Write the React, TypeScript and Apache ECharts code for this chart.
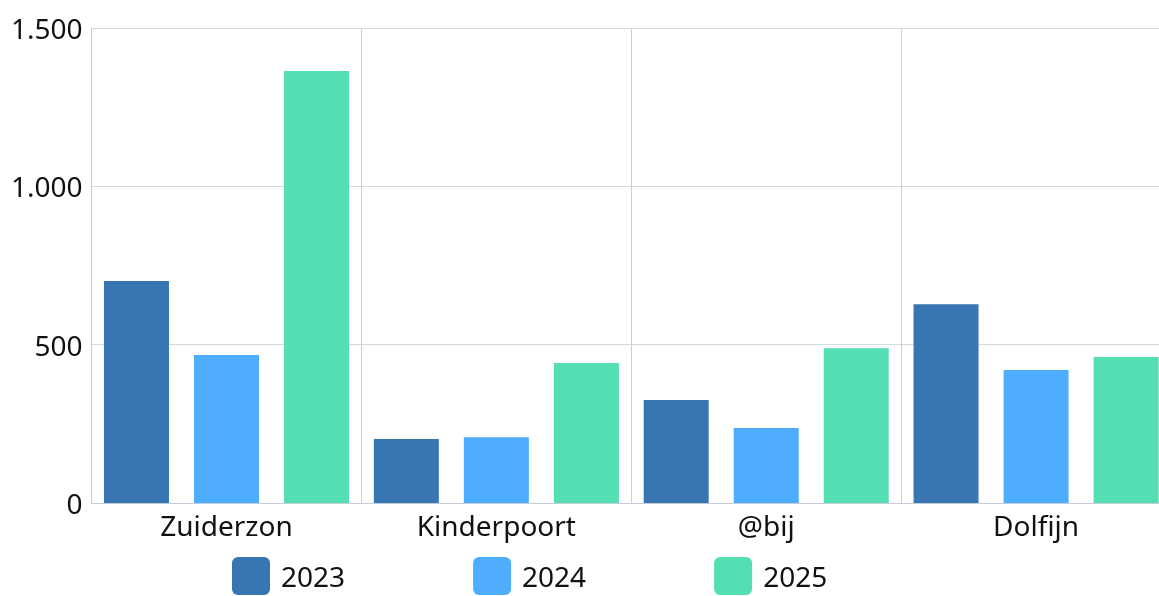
import React, { useEffect, useRef } from "react";
import * as echarts from "echarts";

const categories = ["Zuiderzon", "Kinderpoort", "@bij", "Dolfijn"];
const seriesNames = ["2023", "2024", "2025"];
const values2023 = [701, 202, 325, 628];
const values2024 = [467, 208, 237, 420];
const values2025 = [1364, 442, 489, 461];
const colors = ["#3776b2", "#4fadff", "#53deb4"];
const yTicks = { min: 0, max: 1500, interval: 500 };

const FONT = "'Noto Sans', 'Open Sans', sans-serif";

export default function App() {
  const ref = useRef<HTMLDivElement>(null);
  useEffect(() => {
    if (!ref.current) return;
    const chart = echarts.init(ref.current, null, { renderer: "svg" });
    const data = [values2023, values2024, values2025];
    chart.setOption({
      animation: false,
      textStyle: { fontFamily: FONT },
      grid: { left: 77, right: 37, top: 20, bottom: 105, containLabel: false },
      legend: {
        data: seriesNames,
        left: 224,
        top: 549,
        padding: 0,
        itemWidth: 38,
        itemHeight: 38,
        itemGap: 128,
        icon: "path://M6,0 H32 A6,6 0 0 1 38,6 V32 A6,6 0 0 1 32,38 H6 A6,6 0 0 1 0,32 V6 A6,6 0 0 1 6,0 Z",
        textStyle: { fontSize: 28, color: "#111", fontFamily: FONT, padding: [0, 0, 0, 6] },
      },
      xAxis: {
        type: "category",
        data: categories,
        axisTick: { show: false },
        axisLine: { show: true, lineStyle: { color: "#c3ccd8", width: 1 } },
        splitLine: { show: true, lineStyle: { color: "#c8d0da", width: 1 } },
        axisLabel: { fontSize: 28, color: "#111", margin: 8, fontFamily: FONT },
      },
      yAxis: {
        type: "value",
        min: yTicks.min,
        max: yTicks.max,
        interval: yTicks.interval,
        axisLine: { show: true, lineStyle: { color: "#c3ccd8", width: 1 } },
        axisTick: { show: false },
        splitLine: { show: true, lineStyle: { color: "#d3d9e0", width: 1 } },
        axisLabel: {
          fontSize: 28,
          color: "#111",
          margin: 9,
          fontFamily: FONT,
          formatter: (v: number) => v.toLocaleString("de-DE"),
        },
      },
      series: seriesNames.map((name, i) => ({
        name,
        type: "bar",
        data: data[i],
        barWidth: 65,
        barGap: "38.5%",
        itemStyle: { color: colors[i] },
      })),
    });
    return () => chart.dispose();
  }, []);
  return (
    <div style={{ position: "fixed", left: 8, top: 8, width: 1151, height: 588, overflow: "hidden" }}>
      <div ref={ref} style={{ width: 1200, height: 600 }} />
    </div>
  );
}
